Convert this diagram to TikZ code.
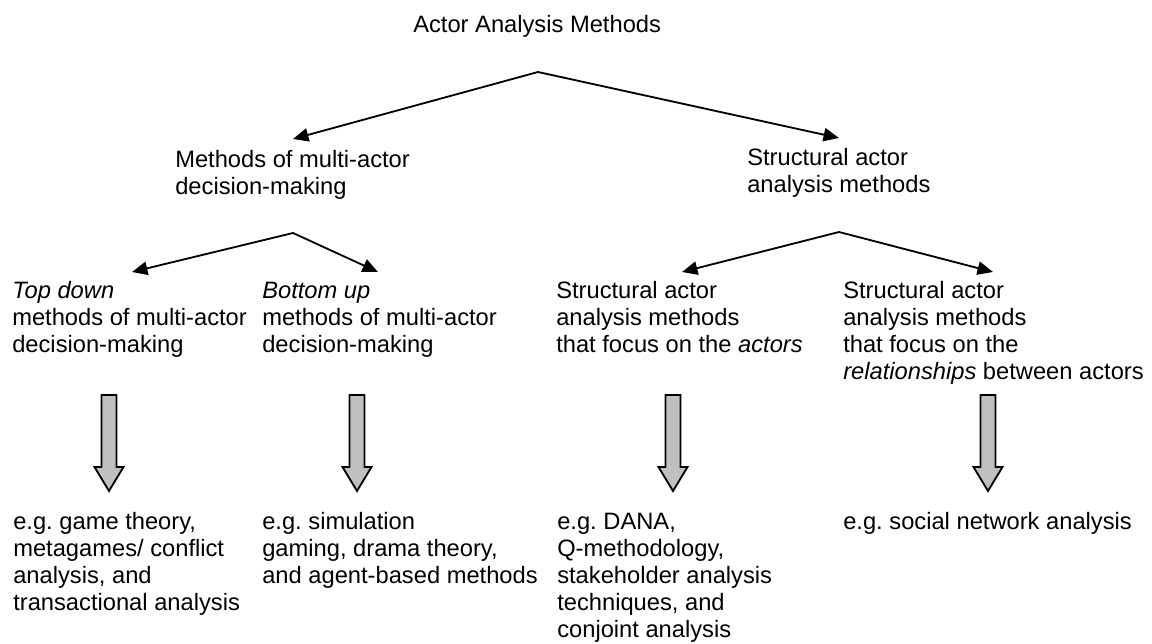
\documentclass[tikz,border=0pt]{standalone}
\usepackage{fontspec}
\setmainfont{Liberation Sans}
\usetikzlibrary{arrows.meta}

\definecolor{arrowgray}{RGB}{192,192,192}
\tikzset{
	txt/.style={anchor=base west, inner sep=0pt, align=left, font=\fontsize{16.86}{19.2}\selectfont},
	link/.style={line width=1.3pt, -{Triangle[length=11pt,width=9.5pt]}},
	fat/.style={draw, line width=1.3pt, fill=arrowgray, line join=miter}
}
\frenchspacing

\begin{document}
\begin{tikzpicture}[x=0.025cm,y=-0.025cm]
	\useasboundingbox (0,0) rectangle (1152,644);
	
	% nodes sit on the baseline of their last line
	\node[txt] (title) at (413,33) {Actor Analysis Methods};
	\node[txt] (mad) at (175,194) {Methods of multi-actor\\decision-making};
	\node[txt] (sam) at (747,192) {Structural actor\\analysis methods};
	
	\node[txt] (td) at (12,352) {\textit{Top down}\\methods of multi-actor\\decision-making};
	\node[txt] (bu) at (262,352) {\textit{Bottom up}\\methods of multi-actor\\decision-making};
	\node[txt] (fa) at (556,352) {Structural actor\\analysis methods\\that focus on the \textit{actors}};
	\node[txt] (fr) at (843,379) {Structural actor\\analysis methods\\that focus on the\\\textit{relationships} between actors};
	
	\node[txt] (ex1) at (13,610) {e.g. game theory,\\metagames/ conflict\\analysis, and\\transactional analysis};
	\node[txt] (ex2) at (262,583) {e.g. simulation\\gaming, drama theory,\\and agent-based methods};
	\node[txt] (ex3) at (557,637) {e.g. DANA,\\Q-methodology,\\stakeholder analysis\\techniques, and\\conjoint analysis};
	\node[txt] (ex4) at (843,529) {e.g. social network analysis};
	
	% split points and arrow ends
	\coordinate (p0) at (538,72);
	\coordinate (p1) at (293,233);
	\coordinate (p2) at (839,232);
	\coordinate (mad-in) at (293,139);
	\coordinate (sam-in) at (839,138);
	\coordinate (td-in) at (132,272);
	\coordinate (bu-in) at (378,272);
	\coordinate (fa-in) at (682,272);
	\coordinate (fr-in) at (993,272);
	
	\draw[link] (p0) -- (mad-in);
	\draw[link] (p0) -- (sam-in);
	\draw[link] (p1) -- (td-in);
	\draw[link] (p1) -- (bu-in);
	\draw[link] (p2) -- (fa-in);
	\draw[link] (p2) -- (fr-in);
	
	\foreach \x in {109,357,673,988}{
		\draw[fat] ({\x-7.5},395) -- ({\x+7.5},395) -- ({\x+7.5},467) -- ({\x+14.5},467) -- (\x,491) -- ({\x-14.5},467) -- ({\x-7.5},467) -- cycle;
	}
	
\end{tikzpicture}
\end{document}
